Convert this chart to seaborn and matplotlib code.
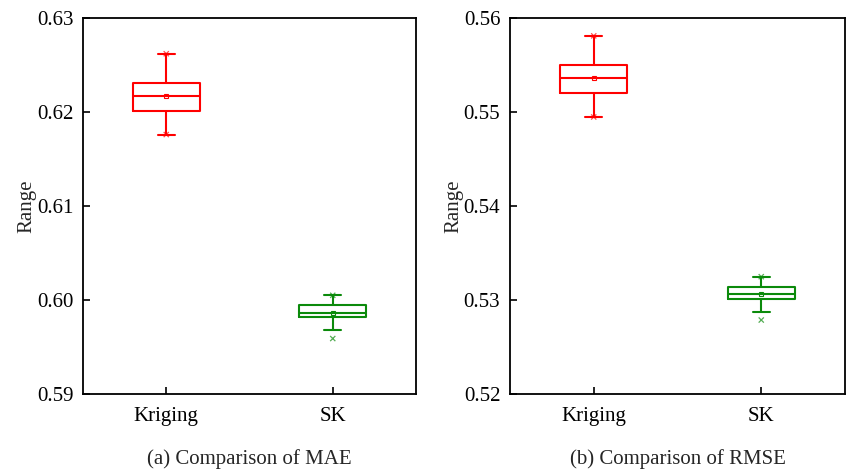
import numpy as np
import pandas as pd
import matplotlib
matplotlib.use("Agg")
import matplotlib.pyplot as plt
import seaborn as sns

# ---- data ----
methods = ["Kriging", "SK"]
mae_kriging = [0.6176, 0.6201, 0.6217, 0.6231, 0.6262]
mae_sk = [0.5959, 0.5968, 0.5982, 0.5985, 0.59865, 0.5993, 0.5995, 0.6004, 0.6005]
rmse_kriging = [0.54947, 0.5520, 0.55362, 0.5550, 0.5581]
rmse_sk = [0.52787, 0.52876, 0.5301, 0.5306, 0.5306, 0.5314, 0.53142, 0.5324, 0.53248]
colors = {"Kriging": "#ff0000", "SK": "#0b8a0b"}

panels = [
    dict(vals={"Kriging": mae_kriging, "SK": mae_sk}, ylim=(0.59, 0.63),
         yticks=[0.59, 0.60, 0.61, 0.62, 0.63], caption="(a) Comparison of MAE"),
    dict(vals={"Kriging": rmse_kriging, "SK": rmse_sk}, ylim=(0.52, 0.56),
         yticks=[0.52, 0.53, 0.54, 0.55, 0.56], caption="(b) Comparison of RMSE"),
]

sns.set_theme(style="ticks")
plt.rcParams["font.family"] = ["Liberation Serif", "DejaVu Serif"]
plt.rcParams["font.size"] = 15

fig = plt.figure(figsize=(8.48, 4.69), dpi=100)
axes = [fig.add_axes([83 / 848, 75 / 469, 333 / 848, 376 / 469]),
        fig.add_axes([510 / 848, 75 / 469, 335 / 848, 376 / 469])]

for ax, p in zip(axes, panels):
    df = pd.DataFrame({
        "Method": np.concatenate([[m] * len(p["vals"][m]) for m in methods]),
        "Value": np.concatenate([p["vals"][m] for m in methods]),
    })
    sns.boxplot(data=df, x="Method", y="Value", hue="Method", order=methods,
                palette=colors, fill=False, legend=False, width=0.4,
                linewidth=1.5, saturation=1, showfliers=False, whis=1.5,
                showmeans=True, capwidths=0.1,
                meanprops=dict(marker="s", markersize=3.5, markerfacecolor="none",
                               markeredgewidth=0.8),
                ax=ax)
    # color mean markers by their category position
    for line in ax.lines:
        if line.get_marker() == "s":
            xpos = int(round(np.mean(line.get_xdata())))
            line.set_markeredgecolor(colors[methods[xpos]])
    ext = df.groupby("Method")["Value"].agg(["min", "max"]).reset_index()
    ext_long = ext.melt(id_vars="Method", value_name="Value")
    sns.scatterplot(data=ext_long, x="Method", y="Value", hue="Method",
                    palette=colors, marker="x", s=14, linewidth=0.9, alpha=0.7,
                    legend=False, ax=ax)
    ax.set_xlim(-0.5, 1.5)
    ax.set_ylim(*p["ylim"])
    ax.set_yticks(p["yticks"])
    ax.set_yticklabels([f"{t:.2f}" for t in p["yticks"]])
    ax.set_xlabel(p["caption"], fontsize=15, labelpad=17)
    ax.set_ylabel("Range", fontsize=15, labelpad=0)
    ax.tick_params(direction="in", length=5, width=1.2, labelsize=15,
                   top=False, right=False, colors="black")
    ax.tick_params(axis="x", pad=9)
    ax.tick_params(axis="y", pad=7)
    for s in ax.spines.values():
        s.set_visible(True)
        s.set_linewidth(1.3)
        s.set_color("black")

fig.savefig("out.png", dpi=100)
